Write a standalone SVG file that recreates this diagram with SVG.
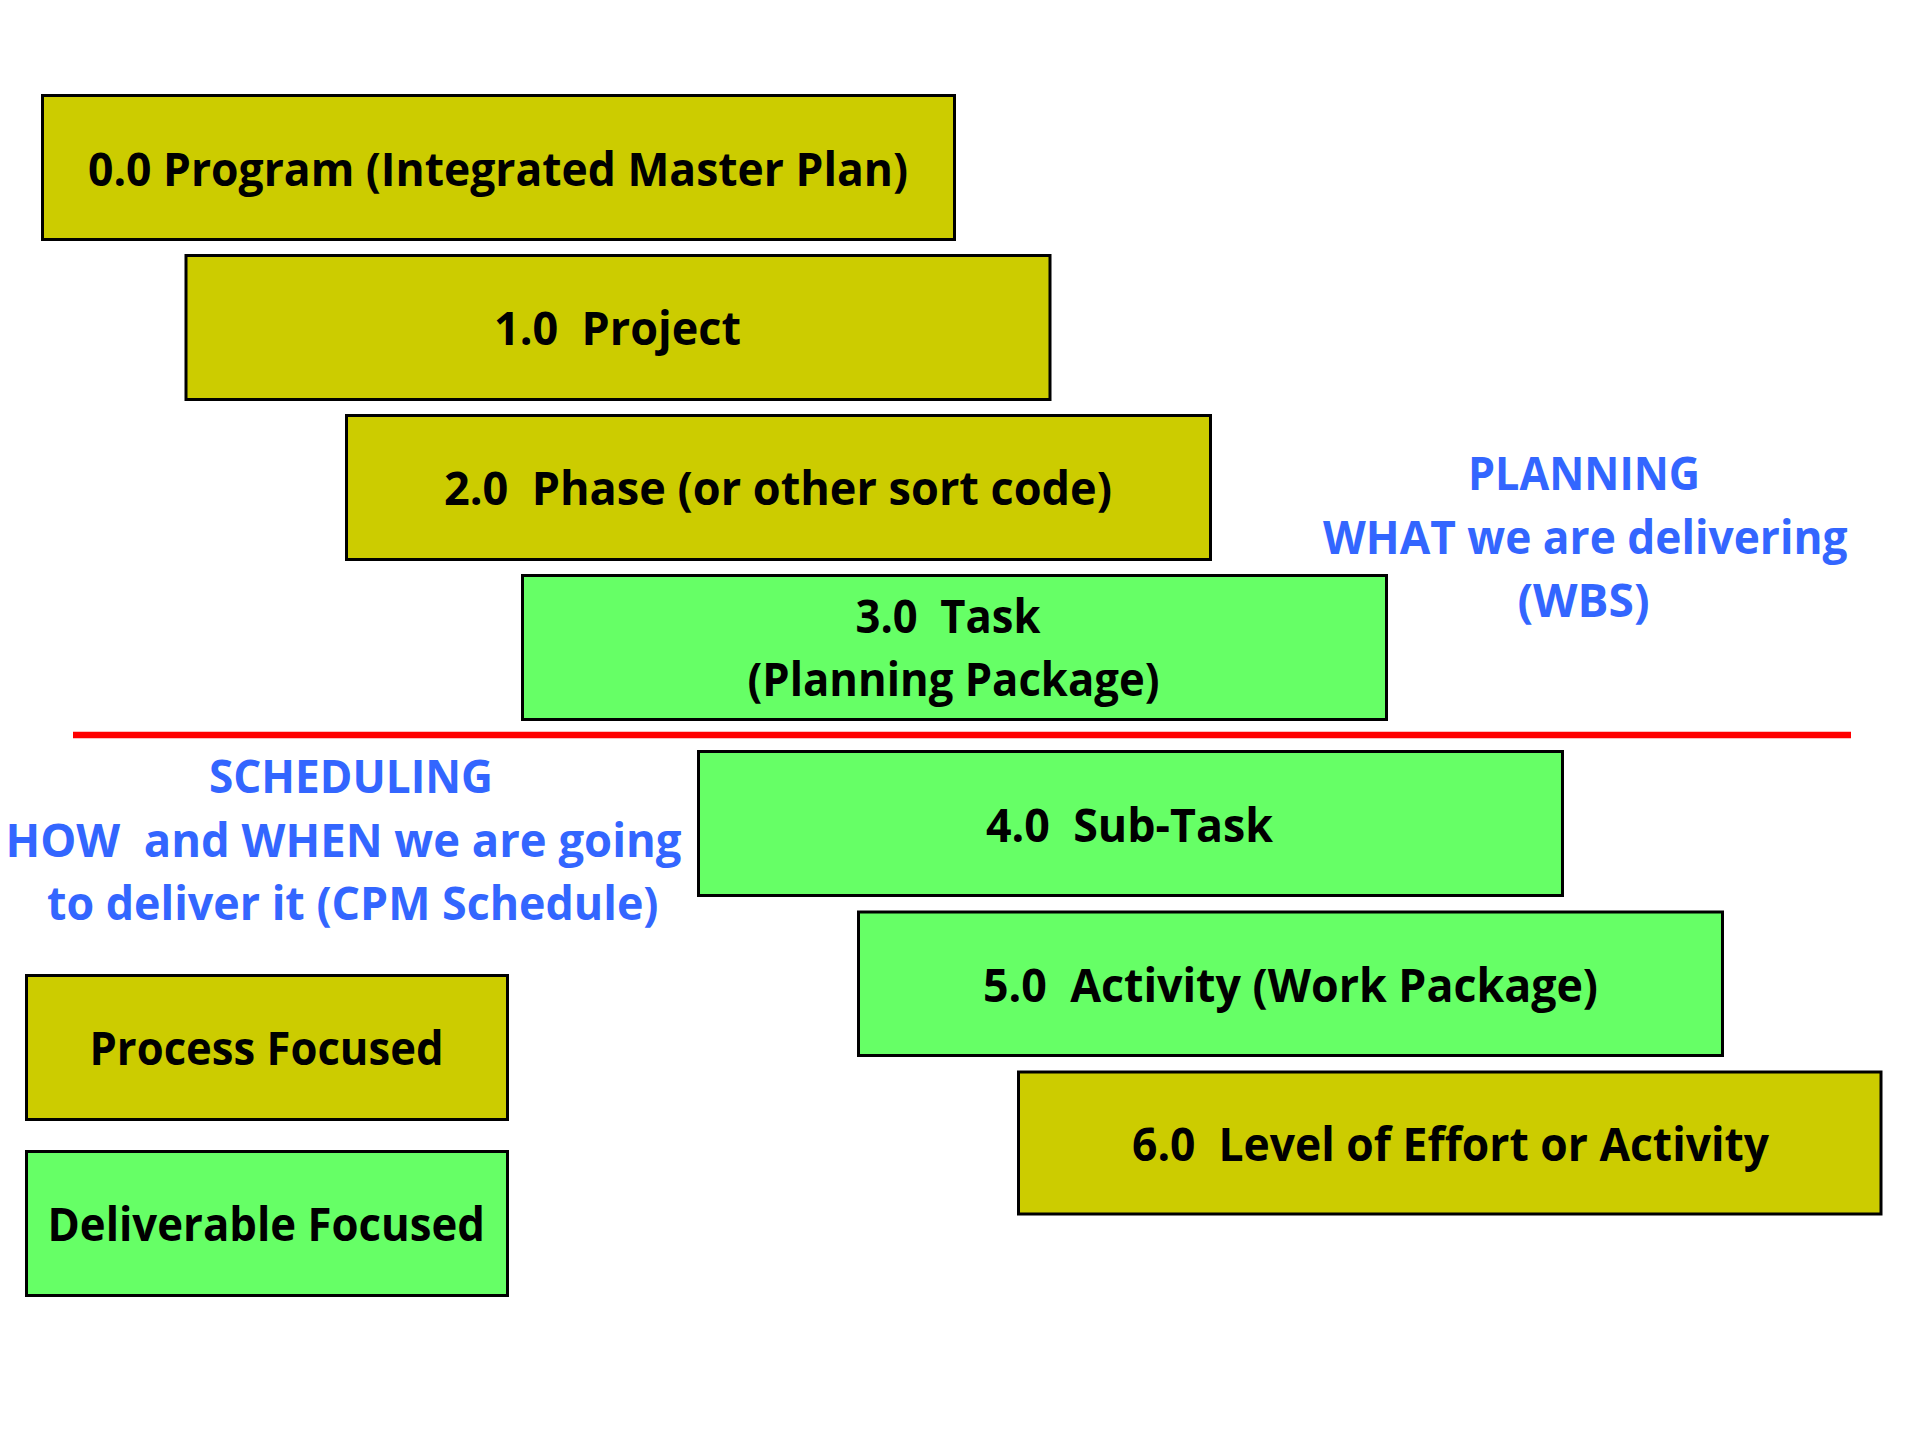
<svg xmlns="http://www.w3.org/2000/svg" width="1914" height="1435" viewBox="0 0 1914 1435">
<style>
.box{stroke:#000;stroke-width:3}
.olive{fill:#CCCC00}
.green{fill:#66FF66}
.t{font-family:"Open Sans","Liberation Sans",sans-serif;font-weight:bold;font-size:46px;fill:#000;white-space:pre}
.b{font-family:"Open Sans","Liberation Sans",sans-serif;font-weight:bold;font-size:46px;fill:#3366FF;white-space:pre}
</style>
<rect x="0" y="0" width="1914" height="1435" fill="#fff"/>
<g id="divider">
<line x1="73" y1="735" x2="1851" y2="735" stroke="#FF0000" stroke-width="6.5"/>
</g>
<g id="n0">
<rect class="box olive" x="42.5" y="95.5" width="912" height="144"/>
<text class="t" x="88" y="186" textLength="820" lengthAdjust="spacingAndGlyphs">0.0 Program (Integrated Master Plan)</text>
</g>
<g id="n1">
<rect class="box olive" x="186" y="255.5" width="864" height="144"/>
<text class="t" x="494" y="345" textLength="247" lengthAdjust="spacingAndGlyphs" xml:space="preserve">1.0  Project</text>
</g>
<g id="n2">
<rect class="box olive" x="346.5" y="415.5" width="864" height="144"/>
<text class="t" x="444" y="505" textLength="668" lengthAdjust="spacingAndGlyphs" xml:space="preserve">2.0  Phase (or other sort code)</text>
</g>
<g id="n3">
<rect class="box green" x="522.5" y="575.5" width="864" height="144"/>
<text class="t" x="855.5" y="633" textLength="185" lengthAdjust="spacingAndGlyphs" xml:space="preserve">3.0  Task</text>
<text class="t" x="747.5" y="696" textLength="412" lengthAdjust="spacingAndGlyphs">(Planning Package)</text>
</g>
<g id="n4">
<rect class="box green" x="698.5" y="751.5" width="864" height="144"/>
<text class="t" x="986" y="842" textLength="287" lengthAdjust="spacingAndGlyphs" xml:space="preserve">4.0  Sub-Task</text>
</g>
<g id="n5">
<rect class="box green" x="858.5" y="912" width="864" height="143.5"/>
<text class="t" x="983" y="1002" textLength="615" lengthAdjust="spacingAndGlyphs" xml:space="preserve">5.0  Activity (Work Package)</text>
</g>
<g id="n6">
<rect class="box olive" x="1018.5" y="1072" width="862.5" height="142"/>
<text class="t" x="1132" y="1161" textLength="637" lengthAdjust="spacingAndGlyphs" xml:space="preserve">6.0  Level of Effort or Activity</text>
</g>
<g id="legend-process">
<rect class="box olive" x="26.5" y="975.5" width="481" height="144"/>
<text class="t" x="89.5" y="1065" textLength="354" lengthAdjust="spacingAndGlyphs">Process Focused</text>
</g>
<g id="legend-deliverable">
<rect class="box green" x="26.5" y="1151.5" width="481" height="144"/>
<text class="t" x="47.5" y="1240.5" textLength="437.5" lengthAdjust="spacingAndGlyphs">Deliverable Focused</text>
</g>
<g id="planning-label">
<text class="b" x="1468" y="490" textLength="232" lengthAdjust="spacingAndGlyphs">PLANNING</text>
<text class="b" x="1323" y="554" textLength="524.5" lengthAdjust="spacingAndGlyphs">WHAT we are delivering</text>
<text class="b" x="1517.5" y="617" textLength="132" lengthAdjust="spacingAndGlyphs">(WBS)</text>
</g>
<g id="scheduling-label">
<text class="b" x="209" y="793" textLength="284" lengthAdjust="spacingAndGlyphs">SCHEDULING</text>
<text class="b" x="5.5" y="857" textLength="676" lengthAdjust="spacingAndGlyphs" xml:space="preserve">HOW  and WHEN we are going</text>
<text class="b" x="47" y="920" textLength="611.5" lengthAdjust="spacingAndGlyphs">to deliver it (CPM Schedule)</text>
</g>
<g id="connectors"></g>
</svg>
